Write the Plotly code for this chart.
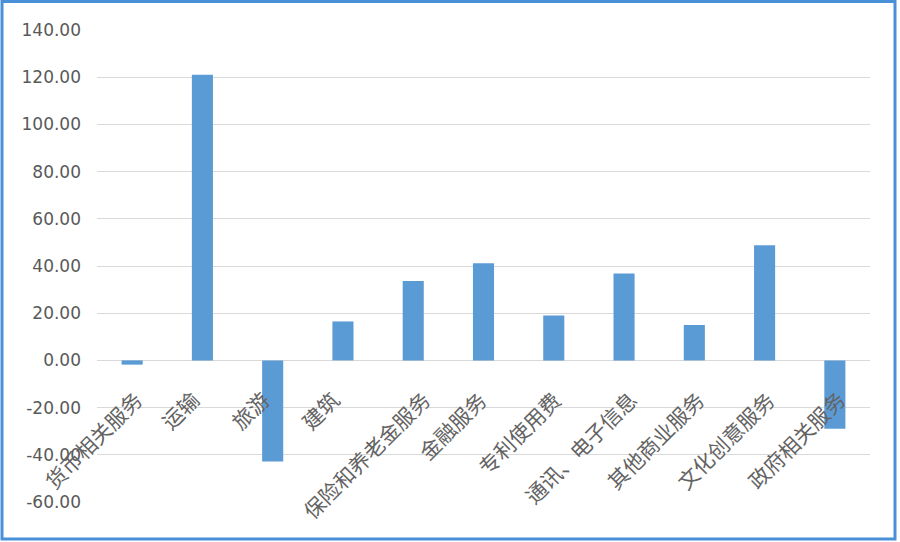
import plotly.graph_objects as go

categories = ["货币相关服务", "运输", "旅游", "建筑", "保险和养老金服务", "金融服务",
              "专利使用费", "通讯、电子信息", "其他商业服务", "文化创意服务", "政府相关服务"]
values = [-1.8, 121.0, -42.8, 16.5, 33.6, 41.2, 19.0, 36.8, 15.0, 48.8, -29.0]
y_ticks = [-60, -40, -20, 0, 20, 40, 60, 80, 100, 120, 140]

W, H = 900, 542
ml, mr, mt, mb = 97, 30, 30, 40
pw, ph = W - ml - mr, H - mt - mb

fig = go.Figure()
fig.add_trace(go.Bar(x=categories, y=values, marker_color="#5B9BD5",
                     marker_line_width=0, width=0.3))

ymin, ymax = -60, 140
fig.update_layout(
    width=W, height=H,
    margin=dict(l=ml, r=mr, t=mt, b=mb),
    paper_bgcolor="white", plot_bgcolor="white",
    showlegend=False,
    xaxis=dict(showticklabels=False, showgrid=False, showline=False, ticks="",
               automargin=False, range=[-0.5, len(categories) - 0.5]),
    yaxis=dict(range=[ymin, ymax], tickvals=y_ticks,
               ticktext=[f"{v:.2f}" for v in y_ticks],
               showgrid=True, gridcolor="#D9D9D9", gridwidth=1,
               zeroline=True, zerolinecolor="#D9D9D9", zerolinewidth=1,
               showline=False, ticks="", ticklabelstandoff=15,
               tickfont=dict(family="DejaVu Sans", size=17, color="#595959"),
               automargin=False),
)

# category labels placed just under the zero line, rotated like Excel does
for cat in categories:
    fig.add_annotation(x=cat, y=0, xref="x", yref="y", text=cat, showarrow=False,
                       textangle=-45, xanchor="right", yanchor="top", borderpad=0,
                       xshift=3.3 * len(cat) - 2.5, yshift=-23,
                       font=dict(family="Noto Sans CJK SC", size=21, color="#636363"))

# outer blue border of the chart
fig.add_shape(type="rect", xref="paper", yref="paper", layer="above",
              x0=(2 - ml) / pw, x1=(W - 5 - ml) / pw,
              y0=-(H - 3 - mt - ph) / ph, y1=1 + (mt - 1.5) / ph,
              line=dict(color="#4A90D9", width=3))

fig.write_html("out.html", config={"displayModeBar": False},
               post_script="document.body.style.margin='0';document.body.style.overflow='hidden';")
